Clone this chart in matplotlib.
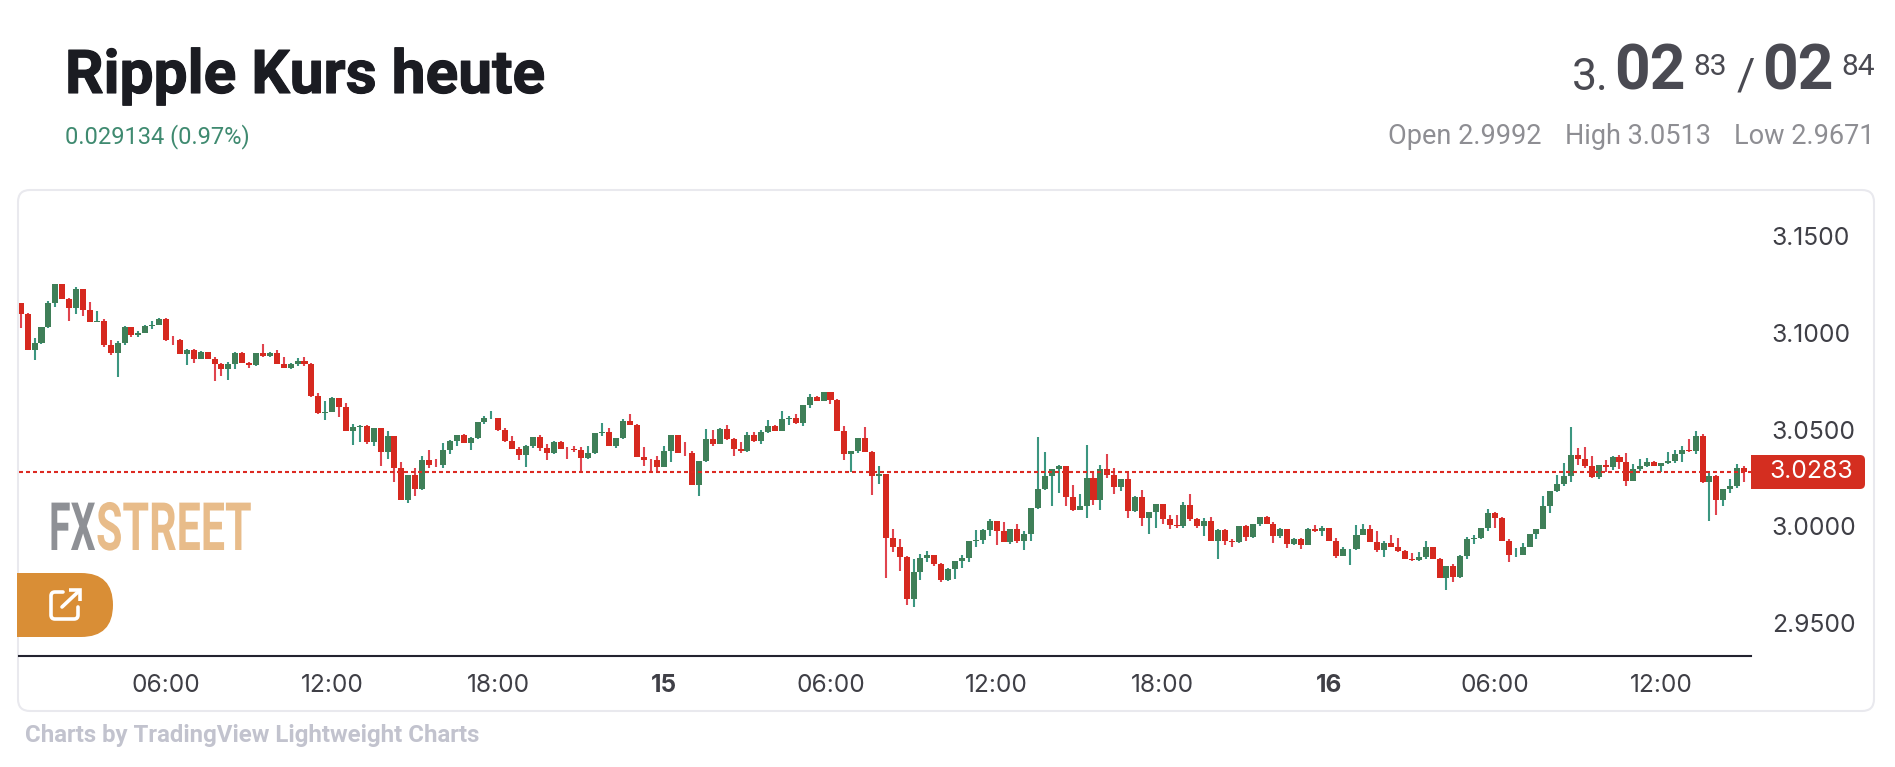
import numpy as np
import matplotlib
matplotlib.use("Agg")
import matplotlib.pyplot as plt
from matplotlib.patches import FancyBboxPatch, Rectangle, PathPatch
from matplotlib.path import Path
from matplotlib.patheffects import AbstractPathEffect, withStroke
from matplotlib.transforms import Affine2D

# 15 minute candles
first_open = 3.1156
closes = [
    3.1099, 3.0914, 3.0951, 3.1030, 3.1154, 3.1252, 3.1176, 3.1130, 3.1226, 3.1120,
    3.1058, 3.1065, 3.0939, 3.0898, 3.0948, 3.1030, 3.0991, 3.1001, 3.1039, 3.1044,
    3.1072, 3.0963, 3.0962, 3.0893, 3.0912, 3.0867, 3.0900, 3.0867, 3.0841, 3.0816,
    3.0840, 3.0895, 3.0847, 3.0834, 3.0895, 3.0881, 3.0895, 3.0841, 3.0821, 3.0840,
    3.0855, 3.0840, 3.0675, 3.0587, 3.0594, 3.0664, 3.0620, 3.0494, 3.0515, 3.0520,
    3.0439, 3.0510, 3.0383, 3.0469, 3.0300, 3.0139, 3.0266, 3.0192, 3.0345, 3.0319,
    3.0316, 3.0395, 3.0443, 3.0472, 3.0432, 3.0458, 3.0541, 3.0561, 3.0563, 3.0499,
    3.0441, 3.0402, 3.0371, 3.0417, 3.0463, 3.0407, 3.0381, 3.0438, 3.0402, 3.0399,
    3.0396, 3.0355, 3.0381, 3.0484, 3.0489, 3.0417, 3.0458, 3.0546, 3.0525, 3.0360,
    3.0345, 3.0343, 3.0309, 3.0391, 3.0474, 3.0381, 3.0379, 3.0216, 3.0340, 3.0453,
    3.0427, 3.0505, 3.0453, 3.0402, 3.0391, 3.0474, 3.0443, 3.0489, 3.0520, 3.0494,
    3.0556, 3.0560, 3.0536, 3.0628, 3.0670, 3.0649, 3.0695, 3.0654, 3.0494, 3.0376,
    3.0391, 3.0458, 3.0386, 3.0262, 3.0273, 2.9938, 2.9891, 2.9840, 2.9623, 2.9762,
    2.9835, 2.9850, 2.9804, 2.9721, 2.9778, 2.9819, 2.9835, 2.9927, 2.9931, 2.9979,
    3.0030, 2.9974, 2.9917, 2.9984, 2.9922, 2.9963, 3.0097, 3.0195, 3.0262, 3.0298,
    3.0314, 3.0154, 3.0087, 3.0103, 3.0252, 3.0134, 3.0298, 3.0268, 3.0206, 3.0247,
    3.0082, 3.0154, 3.0041, 3.0077, 3.0118, 3.0036, 3.0005, 3.0003, 3.0113, 3.0036,
    3.0000, 3.0030, 2.9922, 2.9979, 2.9922, 2.9920, 3.0000, 2.9943, 3.0015, 3.0051,
    3.0015, 2.9948, 2.9989, 2.9907, 2.9933, 2.9902, 2.9989, 2.9974, 2.9994, 2.9922,
    2.9845, 2.9881, 2.9884, 2.9958, 2.9989, 2.9917, 2.9876, 2.9912, 2.9891, 2.9871,
    2.9829, 2.9826, 2.9840, 2.9891, 2.9829, 2.9732, 2.9793, 2.9737, 2.9845, 2.9933,
    2.9938, 2.9994, 3.0067, 3.0041, 2.9927, 2.9850, 2.9853, 2.9891, 2.9963, 2.9989,
    3.0103, 3.0185, 3.0221, 3.0262, 3.0371, 3.0350, 3.0314, 3.0257, 3.0319, 3.0309,
    3.0360, 3.0335, 3.0237, 3.0298, 3.0314, 3.0335, 3.0314, 3.0328, 3.0340, 3.0376,
    3.0396, 3.0388, 3.0469, 3.0231, 3.0262, 3.0139, 3.0195, 3.0211, 3.0304, 3.0283,
]
highs = [
    3.1157, 3.1102, 3.0977, 3.1030, 3.1168, 3.1252, 3.1252, 3.1180, 3.1236, 3.1230,
    3.1159, 3.1113, 3.1075, 3.0963, 3.0958, 3.1035, 3.1032, 3.1010, 3.1041, 3.1065,
    3.1077, 3.1080, 3.0987, 3.0967, 3.0917, 3.0917, 3.0905, 3.0900, 3.0874, 3.0843,
    3.0848, 3.0900, 3.0900, 3.0848, 3.0896, 3.0946, 3.0900, 3.0910, 3.0874, 3.0843,
    3.0869, 3.0874, 3.0843, 3.0688, 3.0649, 3.0670, 3.0664, 3.0637, 3.0530, 3.0525,
    3.0525, 3.0510, 3.0510, 3.0493, 3.0469, 3.0335, 3.0266, 3.0302, 3.0364, 3.0395,
    3.0348, 3.0432, 3.0446, 3.0475, 3.0477, 3.0462, 3.0541, 3.0572, 3.0597, 3.0561,
    3.0508, 3.0469, 3.0410, 3.0422, 3.0463, 3.0474, 3.0427, 3.0443, 3.0443, 3.0410,
    3.0417, 3.0412, 3.0417, 3.0484, 3.0536, 3.0510, 3.0458, 3.0556, 3.0582, 3.0530,
    3.0412, 3.0350, 3.0365, 3.0417, 3.0474, 3.0474, 3.0438, 3.0391, 3.0340, 3.0505,
    3.0499, 3.0510, 3.0525, 3.0458, 3.0438, 3.0489, 3.0489, 3.0499, 3.0551, 3.0525,
    3.0597, 3.0572, 3.0582, 3.0628, 3.0685, 3.0675, 3.0695, 3.0695, 3.0659, 3.0520,
    3.0391, 3.0458, 3.0515, 3.0391, 3.0314, 3.0273, 2.9984, 2.9933, 2.9845, 2.9829,
    2.9855, 2.9871, 2.9850, 2.9809, 2.9783, 2.9819, 2.9850, 2.9927, 2.9979, 2.9984,
    3.0036, 3.0030, 3.0025, 2.9989, 3.0015, 2.9974, 3.0097, 3.0463, 3.0386, 3.0298,
    3.0319, 3.0314, 3.0216, 3.0170, 3.0422, 3.0288, 3.0319, 3.0376, 3.0304, 3.0247,
    3.0278, 3.0159, 3.0190, 3.0077, 3.0118, 3.0118, 3.0061, 3.0061, 3.0128, 3.0170,
    3.0046, 3.0046, 3.0051, 2.9989, 2.9989, 2.9933, 3.0000, 3.0005, 3.0015, 3.0051,
    3.0056, 3.0025, 2.9994, 2.9989, 2.9938, 2.9938, 2.9994, 3.0005, 3.0000, 2.9994,
    2.9938, 2.9891, 2.9881, 3.0005, 3.0015, 3.0005, 2.9974, 2.9927, 2.9958, 2.9938,
    2.9876, 2.9860, 2.9866, 2.9922, 2.9891, 2.9835, 2.9793, 2.9804, 2.9850, 2.9943,
    2.9953, 2.9994, 3.0092, 3.0072, 3.0051, 2.9933, 2.9886, 2.9912, 2.9963, 2.9989,
    3.0159, 3.0185, 3.0268, 3.0329, 3.0515, 3.0407, 3.0412, 3.0365, 3.0319, 3.0345,
    3.0365, 3.0371, 3.0381, 3.0324, 3.0350, 3.0355, 3.0340, 3.0329, 3.0386, 3.0396,
    3.0417, 3.0453, 3.0494, 3.0479, 3.0278, 3.0268, 3.0195, 3.0247, 3.0324, 3.0314,
]
lows = [
    3.1027, 3.0912, 3.0862, 3.0944, 3.1025, 3.1135, 3.1175, 3.1063, 3.1099, 3.1089,
    3.1056, 3.1056, 3.0929, 3.0888, 3.0774, 3.0939, 3.0979, 3.0980, 3.0999, 3.1020,
    3.1041, 3.0960, 3.0939, 3.0891, 3.0836, 3.0847, 3.0865, 3.0865, 3.0754, 3.0780,
    3.0759, 3.0816, 3.0845, 3.0822, 3.0829, 3.0877, 3.0874, 3.0840, 3.0819, 3.0816,
    3.0831, 3.0831, 3.0671, 3.0584, 3.0548, 3.0592, 3.0568, 3.0491, 3.0419, 3.0439,
    3.0424, 3.0414, 3.0310, 3.0347, 3.0228, 3.0137, 3.0120, 3.0156, 3.0190, 3.0300,
    3.0305, 3.0300, 3.0377, 3.0414, 3.0429, 3.0396, 3.0451, 3.0530, 3.0556, 3.0494,
    3.0438, 3.0400, 3.0345, 3.0309, 3.0407, 3.0391, 3.0345, 3.0376, 3.0398, 3.0350,
    3.0386, 3.0283, 3.0350, 3.0376, 3.0469, 3.0417, 3.0407, 3.0453, 3.0525, 3.0360,
    3.0314, 3.0283, 3.0288, 3.0309, 3.0335, 3.0381, 3.0365, 3.0216, 3.0159, 3.0335,
    3.0417, 3.0427, 3.0448, 3.0365, 3.0381, 3.0386, 3.0438, 3.0427, 3.0484, 3.0494,
    3.0494, 3.0525, 3.0530, 3.0520, 3.0613, 3.0649, 3.0649, 3.0633, 3.0494, 3.0345,
    3.0283, 3.0381, 3.0386, 3.0164, 3.0221, 2.9732, 2.9866, 2.9768, 2.9594, 2.9582,
    2.9721, 2.9814, 2.9793, 2.9711, 2.9716, 2.9726, 2.9783, 2.9814, 2.9891, 2.9907,
    2.9948, 2.9902, 2.9917, 2.9907, 2.9912, 2.9876, 2.9927, 3.0092, 3.0190, 3.0103,
    3.0175, 3.0108, 3.0082, 3.0087, 3.0041, 3.0113, 3.0087, 3.0252, 3.0170, 3.0185,
    3.0046, 3.0077, 3.0000, 2.9963, 2.9994, 3.0010, 2.9984, 2.9994, 2.9994, 3.0030,
    2.9994, 2.9948, 2.9922, 2.9829, 2.9902, 2.9891, 2.9912, 2.9922, 2.9938, 3.0000,
    3.0015, 2.9912, 2.9938, 2.9886, 2.9902, 2.9881, 2.9902, 2.9969, 2.9948, 2.9922,
    2.9835, 2.9845, 2.9799, 2.9876, 2.9953, 2.9917, 2.9866, 2.9840, 2.9891, 2.9866,
    2.9829, 2.9819, 2.9819, 2.9829, 2.9829, 2.9732, 2.9670, 2.9711, 2.9732, 2.9829,
    2.9907, 2.9933, 2.9974, 2.9994, 2.9927, 2.9814, 2.9840, 2.9850, 2.9891, 2.9933,
    2.9984, 3.0067, 3.0180, 3.0211, 3.0231, 3.0319, 3.0304, 3.0252, 3.0247, 3.0283,
    3.0293, 3.0298, 3.0211, 3.0237, 3.0288, 3.0309, 3.0314, 3.0283, 3.0324, 3.0329,
    3.0335, 3.0386, 3.0376, 3.0226, 3.0030, 3.0061, 3.0103, 3.0175, 3.0201, 3.0231,
]
last_price = 3.0283

y_ticks = [2.95, 3.00, 3.05, 3.10, 3.15]
time_tick_idx = [21, 45, 69, 93, 117, 141, 165, 189, 213, 237]
time_labels = ["06:00", "12:00", "18:00", "15", "06:00", "12:00", "18:00", "16", "06:00", "12:00"]
bold_labels = ["15", "16"]

GREEN_BODY = "#3f7f58"
GREEN_WICK = "#3b9680"
RED_BODY = "#d6291f"
RED_WICK = "#e0444e"
TEXT_DARK = "#3f3f46"


class StretchY(AbstractPathEffect):
    # the logo is a very condensed face, none is installed so stretch a small font upwards
    def __init__(self, sy, y0):
        self.sy = sy
        self.y0 = y0

    def draw_path(self, renderer, gc, tpath, affine, rgbFace=None):
        stretch = Affine2D().translate(0, -self.y0).scale(1, self.sy).translate(0, self.y0)
        renderer.draw_path(gc, tpath, affine + stretch, rgbFace)


plt.rcParams["font.family"] = "Roboto"
W, H = 1895, 767
fig = plt.figure(figsize=(W / 100, H / 100), dpi=100, facecolor="white")

# page layer in pixel coordinates
page = fig.add_axes([0, 0, 1, 1], zorder=0)
page.set_xlim(0, W)
page.set_ylim(H, 0)
page.axis("off")

page.add_patch(FancyBboxPatch((18, 190), 1856, 521, boxstyle="round,pad=0,rounding_size=12",
                              fc="white", ec="#e9e9ee", lw=1.5))

page.text(65, 93, "Ripple Kurs heute", fontsize=43.5, fontweight="bold", color="#1b1c22",
          path_effects=[withStroke(linewidth=0.8, foreground="#1b1c22")])
page.text(65, 143, "0.029134 (0.97%)", fontsize=17, color="#3f8a70")

page.text(1572, 90, "3.", fontsize=32, color="#4a4a52")
page.text(1614, 90, "02", fontsize=45, fontweight="bold", color="#4a4a52")
page.text(1693, 75, "83", fontsize=21.5, color="#4a4a52")
page.text(1737, 90, "/", fontsize=32, color="#4a4a52")
page.text(1762, 90, "02", fontsize=45, fontweight="bold", color="#4a4a52")
page.text(1841, 75, "84", fontsize=21.5, color="#4a4a52")

page.text(1388, 143.5, "Open 2.9992", fontsize=19.5, color="#8e8e93")
page.text(1565, 143.5, "High 3.0513", fontsize=19.5, color="#8e8e93")
page.text(1734, 143.5, "Low 2.9671", fontsize=19.5, color="#8e8e93")

page.text(25, 742, "Charts by TradingView Lightweight Charts", fontsize=17.3,
          fontweight="bold", color="#c2c3ce")

# watermark, baseline at y=550 in the page layer
page.text(49, 550, "FX", fontsize=28.3, fontweight="bold", color="#8e9095",
          path_effects=[StretchY(1.696, H - 550)])
page.text(96, 550, "STREET", fontsize=31, fontweight="bold", color="#e8bc8a",
          path_effects=[StretchY(1.548, H - 550)])

# external link button
page.add_patch(FancyBboxPatch((-40, 573), 153, 64, boxstyle="round,pad=0,rounding_size=32",
                              fc="#d98e36", ec="none"))
page.add_patch(Rectangle((0, 570), 17, 70, fc="white", ec="none"))
box = Path([(63, 592), (55, 592), (51, 592), (51, 596), (51, 615), (51, 619), (55, 619),
            (74, 619), (78, 619), (78, 615), (78, 607)],
           [Path.MOVETO, Path.LINETO, Path.CURVE3, Path.CURVE3, Path.LINETO, Path.CURVE3, Path.CURVE3,
            Path.LINETO, Path.CURVE3, Path.CURVE3, Path.LINETO])
page.add_patch(PathPatch(box, fc="none", ec="white", lw=2.6, capstyle="round"))
page.plot([62, 79], [607, 591], color="white", lw=2.6, solid_capstyle="round")
page.plot([69, 80, 80], [590, 590, 601], color="white", lw=2.6, solid_capstyle="butt",
          solid_joinstyle="miter")

# last price tag
page.add_patch(FancyBboxPatch((1751, 455), 114, 34, boxstyle="round,pad=0,rounding_size=5",
                              fc="#d42e20", ec="none"))
page.add_patch(Rectangle((1751, 455), 10, 34, fc="#d42e20", ec="none"))

# chart layer
ax = fig.add_axes([19 / W, 1 - 655.7 / H, 1732 / W, (655.7 - 191) / H], zorder=1)
ax.patch.set_alpha(0)

idx = np.arange(len(closes))
closes = np.array(closes)
highs = np.array(highs)
lows = np.array(lows)
opens = np.r_[first_open, closes[:-1]]
up = closes >= opens

ax.vlines(idx[up], lows[up], highs[up], color=GREEN_WICK, lw=1.5, zorder=2)
ax.vlines(idx[~up], lows[~up], highs[~up], color=RED_WICK, lw=1.5, zorder=2)
ax.bar(idx[up], (closes - opens)[up], bottom=opens[up], width=0.87, color=GREEN_BODY, lw=0, zorder=3)
ax.bar(idx[~up], (opens - closes)[~up], bottom=closes[~up], width=0.87, color=RED_BODY, lw=0, zorder=3)

ax.axhline(last_price, color="#dc2a22", lw=1.5, dashes=(1.92, 1.44), zorder=4)

ax.set_xlim(-0.25, 250.0)
ax.set_ylim(2.93311, 3.17351)

for s in ["top", "left", "right"]:
    ax.spines[s].set_visible(False)
ax.spines["bottom"].set_color("#23232f")
ax.spines["bottom"].set_linewidth(1.5)

ax.set_xticks(time_tick_idx)
ax.set_xticklabels(time_labels, family="Inter", fontsize=17.6, color=TEXT_DARK)
for lab in ax.get_xticklabels():
    if lab.get_text() in bold_labels:
        lab.set_fontweight("bold")
ax.tick_params(axis="x", length=0, pad=13.5)

ax.yaxis.tick_right()
ax.set_yticks(y_ticks)
ax.set_yticklabels([f"{v:.4f}" for v in y_ticks], family="Inter", fontsize=17.8, color=TEXT_DARK)
ax.tick_params(axis="y", length=0, pad=15)

ax.text(1 + 60 / 1732, last_price, f"{last_price:.4f}", transform=ax.get_yaxis_transform(),
        family="Inter", fontsize=17.8, color="white", ha="center", va="center", zorder=5, clip_on=False)

fig.savefig("out.png", dpi=100)
